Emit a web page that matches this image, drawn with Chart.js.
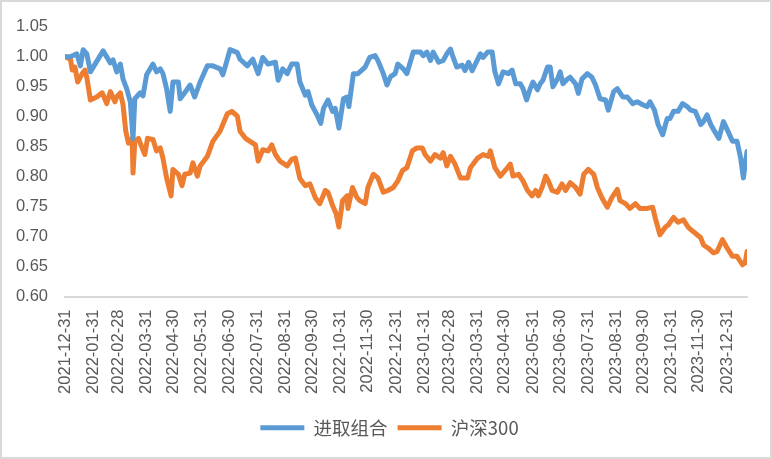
<!DOCTYPE html>
<html><head><meta charset="utf-8">
<script src="https://cdn.jsdelivr.net/npm/chart.js@4.4.1/dist/chart.umd.min.js"></script>
<style>html,body{margin:0;padding:0;background:#fff}canvas{display:block}</style>
</head><body><canvas id="c" width="772" height="459"></canvas>
<script>
const seriesNames = ['进取组合', '沪深300'];
const seriesColors = ['#5B9BD5', '#ED7D31'];
const tickLabels = ['2021-12-31','2022-01-31','2022-02-28','2022-03-31','2022-04-30','2022-05-31','2022-06-30','2022-07-31','2022-08-31','2022-09-30','2022-10-31','2022-11-30','2022-12-31','2023-01-31','2023-02-28','2023-03-31','2023-04-30','2023-05-31','2023-06-30','2023-07-31','2023-08-31','2023-09-30','2023-10-31','2023-11-30','2023-12-31'];
const yMin = 0.60, yMax = 1.05, yStep = 0.05;

const portfolioDates = ['2021-12-31','2022-01-06','2022-01-13','2022-01-17','2022-01-20','2022-01-24','2022-01-28','2022-02-03','2022-02-11','2022-02-15','2022-02-19','2022-02-22','2022-02-26','2022-03-02','2022-03-05','2022-03-09','2022-03-13','2022-03-16','2022-03-18','2022-03-24','2022-03-27','2022-03-31','2022-04-07','2022-04-11','2022-04-15','2022-04-18','2022-04-22','2022-04-26','2022-04-29','2022-05-05','2022-05-07','2022-05-12','2022-05-18','2022-05-23','2022-05-29','2022-06-06','2022-06-12','2022-06-20','2022-06-23','2022-06-28','2022-07-01','2022-07-09','2022-07-12','2022-07-20','2022-07-26','2022-08-01','2022-08-06','2022-08-12','2022-08-20','2022-08-23','2022-08-28','2022-09-02','2022-09-07','2022-09-13','2022-09-16','2022-09-22','2022-09-25','2022-09-29','2022-10-05','2022-10-09','2022-10-12','2022-10-17','2022-10-22','2022-10-25','2022-10-29','2022-11-03','2022-11-07','2022-11-09','2022-11-14','2022-11-19','2022-11-27','2022-12-02','2022-12-08','2022-12-11','2022-12-17','2022-12-21','2022-12-25','2022-12-30','2023-01-02','2023-01-08','2023-01-12','2023-01-19','2023-01-27','2023-01-30','2023-02-03','2023-02-07','2023-02-10','2023-02-16','2023-02-21','2023-02-25','2023-03-01','2023-03-04','2023-03-08','2023-03-14','2023-03-17','2023-03-21','2023-03-25','2023-04-03','2023-04-06','2023-04-11','2023-04-16','2023-04-19','2023-04-23','2023-04-28','2023-05-04','2023-05-08','2023-05-12','2023-05-17','2023-05-20','2023-05-24','2023-05-28','2023-05-31','2023-06-05','2023-06-08','2023-06-11','2023-06-16','2023-06-19','2023-06-22','2023-06-27','2023-06-30','2023-07-03','2023-07-08','2023-07-11','2023-07-17','2023-07-20','2023-07-24','2023-07-30','2023-08-04','2023-08-08','2023-08-13','2023-08-19','2023-08-22','2023-08-28','2023-09-01','2023-09-07','2023-09-12','2023-09-18','2023-09-23','2023-09-29','2023-10-04','2023-10-07','2023-10-12','2023-10-16','2023-10-21','2023-10-26','2023-10-29','2023-11-02','2023-11-07','2023-11-12','2023-11-17','2023-11-21','2023-11-26','2023-12-02','2023-12-05','2023-12-09','2023-12-13','2023-12-16','2023-12-22','2023-12-27','2023-12-31','2024-01-06','2024-01-11','2024-01-15','2024-01-18','2024-01-22'];
const portfolioValues = [1.000,1.000,1.005,0.985,1.012,1.005,0.975,0.990,1.010,1.000,0.990,0.995,0.975,0.988,0.963,0.947,0.925,0.864,0.930,0.940,0.935,0.970,0.988,0.975,0.980,0.972,0.947,0.909,0.958,0.958,0.930,0.940,0.953,0.933,0.958,0.985,0.985,0.980,0.970,0.996,1.012,1.007,0.996,0.985,0.996,0.972,0.999,0.988,0.991,0.961,0.980,0.972,0.988,0.988,0.958,0.936,0.942,0.920,0.903,0.889,0.914,0.928,0.909,0.914,0.881,0.930,0.933,0.917,0.972,0.972,0.983,0.999,1.002,0.994,0.972,0.953,0.967,0.972,0.988,0.980,0.972,1.008,1.008,1.002,1.008,0.994,1.008,0.991,0.994,1.005,1.013,0.999,0.983,0.986,0.977,0.991,0.977,1.005,0.999,1.008,1.008,0.975,0.955,0.975,0.972,0.978,0.955,0.955,0.947,0.928,0.947,0.958,0.945,0.955,0.961,0.983,0.983,0.950,0.963,0.975,0.955,0.963,0.966,0.955,0.939,0.963,0.972,0.966,0.953,0.930,0.928,0.911,0.942,0.947,0.933,0.933,0.922,0.925,0.920,0.917,0.925,0.911,0.887,0.870,0.897,0.897,0.909,0.909,0.922,0.917,0.911,0.909,0.887,0.892,0.903,0.887,0.879,0.864,0.892,0.879,0.859,0.859,0.831,0.798,0.842];

const indexDates = ['2021-12-31','2022-01-06','2022-01-08','2022-01-11','2022-01-14','2022-01-19','2022-01-22','2022-01-24','2022-01-28','2022-02-04','2022-02-10','2022-02-15','2022-02-19','2022-02-24','2022-02-26','2022-03-02','2022-03-05','2022-03-08','2022-03-11','2022-03-15','2022-03-16','2022-03-18','2022-03-22','2022-03-26','2022-03-29','2022-04-01','2022-04-07','2022-04-11','2022-04-15','2022-04-18','2022-04-22','2022-04-27','2022-04-29','2022-05-05','2022-05-09','2022-05-12','2022-05-18','2022-05-21','2022-05-26','2022-05-29','2022-06-06','2022-06-12','2022-06-20','2022-06-28','2022-07-03','2022-07-09','2022-07-12','2022-07-18','2022-07-23','2022-07-29','2022-08-01','2022-08-06','2022-08-12','2022-08-16','2022-08-20','2022-08-25','2022-09-02','2022-09-07','2022-09-11','2022-09-16','2022-09-22','2022-09-27','2022-10-03','2022-10-08','2022-10-14','2022-10-17','2022-10-22','2022-10-26','2022-10-29','2022-11-02','2022-11-07','2022-11-08','2022-11-13','2022-11-18','2022-11-21','2022-11-27','2022-11-30','2022-12-06','2022-12-11','2022-12-17','2022-12-22','2022-12-28','2023-01-02','2023-01-07','2023-01-12','2023-01-18','2023-01-23','2023-01-29','2023-02-01','2023-02-07','2023-02-12','2023-02-18','2023-02-21','2023-02-25','2023-03-01','2023-03-06','2023-03-12','2023-03-20','2023-03-23','2023-03-31','2023-04-06','2023-04-12','2023-04-14','2023-04-19','2023-04-25','2023-05-03','2023-05-06','2023-05-09','2023-05-15','2023-05-20','2023-05-25','2023-05-30','2023-06-03','2023-06-06','2023-06-10','2023-06-14','2023-06-17','2023-06-21','2023-06-27','2023-07-02','2023-07-06','2023-07-11','2023-07-17','2023-07-22','2023-07-26','2023-07-31','2023-08-06','2023-08-10','2023-08-15','2023-08-21','2023-08-26','2023-09-01','2023-09-04','2023-09-10','2023-09-15','2023-09-21','2023-09-26','2023-10-04','2023-10-10','2023-10-13','2023-10-18','2023-10-24','2023-10-27','2023-11-02','2023-11-07','2023-11-13','2023-11-18','2023-11-24','2023-12-02','2023-12-05','2023-12-10','2023-12-16','2023-12-20','2023-12-26','2023-12-31','2024-01-06','2024-01-11','2024-01-17','2024-01-20','2024-01-22'];
const indexValues = [1.000,0.996,0.978,0.983,0.958,0.972,0.978,0.966,0.928,0.933,0.940,0.922,0.942,0.925,0.933,0.940,0.920,0.876,0.856,0.864,0.806,0.859,0.864,0.848,0.837,0.864,0.862,0.843,0.848,0.831,0.798,0.768,0.812,0.804,0.785,0.804,0.806,0.823,0.801,0.818,0.834,0.859,0.876,0.905,0.909,0.901,0.876,0.864,0.859,0.853,0.826,0.845,0.843,0.853,0.837,0.826,0.818,0.829,0.831,0.797,0.785,0.788,0.765,0.755,0.777,0.774,0.752,0.738,0.716,0.760,0.768,0.747,0.782,0.765,0.760,0.755,0.782,0.804,0.798,0.774,0.777,0.782,0.793,0.810,0.815,0.843,0.848,0.848,0.837,0.826,0.837,0.831,0.840,0.818,0.834,0.821,0.798,0.798,0.815,0.831,0.837,0.834,0.843,0.815,0.801,0.815,0.821,0.801,0.804,0.793,0.777,0.768,0.777,0.768,0.782,0.801,0.793,0.777,0.774,0.788,0.777,0.790,0.782,0.771,0.804,0.812,0.804,0.782,0.765,0.749,0.765,0.779,0.760,0.755,0.747,0.755,0.747,0.747,0.749,0.730,0.703,0.716,0.719,0.732,0.724,0.728,0.716,0.708,0.698,0.686,0.681,0.673,0.675,0.695,0.681,0.667,0.667,0.653,0.656,0.675];

const ORIGIN = Date.UTC(2021, 11, 31);
function dayOf(s) { const p = s.split('-').map(Number); return (Date.UTC(p[0], p[1] - 1, p[2]) - ORIGIN) / 86400000; }
function toPoints(dates, values) { return dates.map((d, i) => ({ x: dayOf(d), y: values[i] })); }
const tickDays = tickLabels.map(dayOf);
const lastDay = Math.max(dayOf(portfolioDates[portfolioDates.length - 1]), dayOf(indexDates[indexDates.length - 1]));

const frame = {
  id: 'frame',
  afterLayout(chart) { if (chart.legend) { chart.legend.left += 16; chart.legend.right += 16; } },
  beforeDraw(chart) { const c = chart.ctx; c.save(); c.fillStyle = '#fff'; c.fillRect(0, 0, chart.width, chart.height); c.restore(); },
  afterDraw(chart) { const c = chart.ctx; c.save(); c.strokeStyle = '#D9D9D9'; c.lineWidth = 2; c.strokeRect(1, 1, chart.width - 2, chart.height - 2); c.restore(); }
};

const tickFont = { family: 'Liberation Sans', size: 16.5 };
new Chart(document.getElementById('c'), {
  type: 'line',
  data: {
    datasets: [
      { label: seriesNames[0], data: toPoints(portfolioDates, portfolioValues), borderColor: seriesColors[0], backgroundColor: seriesColors[0], borderWidth: 5, pointRadius: 0, tension: 0, borderJoinStyle: 'round', borderCapStyle: 'round' },
      { label: seriesNames[1], data: toPoints(indexDates, indexValues), borderColor: seriesColors[1], backgroundColor: seriesColors[1], borderWidth: 5, pointRadius: 0, tension: 0, borderJoinStyle: 'round', borderCapStyle: 'round' }
    ]
  },
  options: {
    responsive: false, animation: false, devicePixelRatio: 1,
    layout: { padding: { left: 0, right: 25, top: 25, bottom: 12 } },
    scales: {
      x: {
        type: 'linear', min: 0, max: lastDay,
        afterBuildTicks: s => { s.ticks = tickDays.map(v => ({ value: v })); },
        afterFit: s => { s.height = 112; },
        grid: { display: false, drawTicks: false },
        border: { display: true, color: '#D9D9D9', width: 2 },
        ticks: { autoSkip: false, minRotation: 90, maxRotation: 90, padding: 13, color: '#595959', font: tickFont,
          callback: v => { const i = tickDays.indexOf(v); return i >= 0 ? tickLabels[i] : ''; } }
      },
      y: {
        min: yMin, max: yMax,
        afterFit: s => { s.width = 65; },
        grid: { display: false, drawTicks: false },
        border: { display: false },
        ticks: { stepSize: yStep, padding: 17, color: '#595959', font: tickFont, callback: v => v.toFixed(2) }
      }
    },
    plugins: {
      tooltip: { enabled: false },
      legend: {
        position: 'bottom',
        labels: {
          boxWidth: 44, boxHeight: 5, padding: 10, color: '#595959',
          font: { family: 'Noto Sans CJK SC', size: 18.5 },
          generateLabels(chart) {
            const items = Chart.defaults.plugins.legend.labels.generateLabels(chart);
            items.forEach(it => { it.lineWidth = 0; it.fontColor = '#595959'; });
            return items;
          }
        }
      }
    }
  },
  plugins: [frame]
});
</script></body></html>
